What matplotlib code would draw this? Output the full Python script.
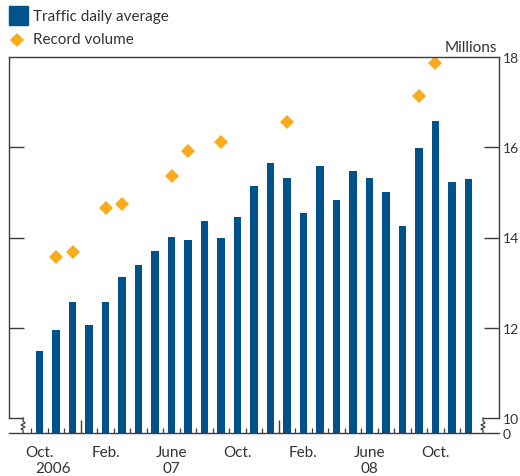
import matplotlib
matplotlib.use("Agg")
import matplotlib.pyplot as plt
from matplotlib.lines import Line2D
from matplotlib.patches import Rectangle
import pandas as pd

plt.rcParams['font.family'] = ['Lato', 'DejaVu Sans']

# data (millions)
months = [str(p) for p in pd.period_range("2006-10", "2008-12", freq="M")]
traffic = [11.49, 11.96, 12.58, 12.07, 12.56, 13.12, 13.40, 13.70, 14.01,
           13.94, 14.37, 13.99, 14.45, 15.14, 15.65, 15.32, 14.54, 15.58,
           14.83, 15.47, 15.32, 15.01, 14.25, 15.98, 16.58, 15.23, 15.30]
record_months = ["2006-11", "2006-12", "2007-02", "2007-03", "2007-06",
                 "2007-07", "2007-09", "2008-01", "2008-09", "2008-10"]
record_values = [13.57, 13.67, 14.65, 14.74, 15.36, 15.92, 16.12, 16.55,
                 17.13, 17.87]
month_labels = ["Oct.", "Feb.", "June", "Oct.", "Feb.", "June", "Oct."]
month_label_at = ["2006-10", "2007-02", "2007-06", "2007-10", "2008-02",
                  "2008-06", "2008-10"]
year_labels = ["2006", "07", "08"]
year_label_at = ["2006-10", "2007-06", "2008-06"]

BLUE = "#00538A"
ORANGE = "#FBAA1B"
LINE = "#3c3c3c"
TEXT = "#333333"
FS = 11
YFS = 10
PT = 0.72  # points per pixel at dpi 100

W, H = 520, 477
fig = plt.figure(figsize=(W / 100, H / 100), dpi=100)
ax = fig.add_axes([9 / W, 1 - 434 / H, 490 / W, 376 / H])

ymin = 18 - 376 / 45.125
x = list(range(len(months)))
ax.bar(x, [v - ymin for v in traffic], bottom=ymin, width=0.43, color=BLUE)
rx = [months.index(m) for m in record_months]
ax.plot(rx, record_values, linestyle="none", marker="D", markersize=7.6,
        color=ORANGE, markeredgewidth=0)

ax.set_xlim(-1.85, 27.85)
ax.set_ylim(ymin, 18)

for s in ax.spines.values():
    s.set_color(LINE)
    s.set_linewidth(1.0)
ax.spines['left'].set_bounds(10, 18)
ax.spines['right'].set_bounds(10, 18)

# axis breaks
px, py = 1 / 16.5, 1 / 45.125
zig = [(0, 0), (0, 3), (2, 5), (-2, 7), (2, 9), (-2, 11), (0, 12), (0, 15)]
for edge, x0 in [(-1.85, -1.0), (27.85, 26.88)]:
    ax.plot([edge, x0], [10, 10], color=LINE, lw=1.0, clip_on=False)
    ax.plot([x0 + dx * px for dx, dy in zig], [10 - dy * py for dx, dy in zig],
            color=LINE, lw=0.9, clip_on=False)

# x ticks at month boundaries, longer at year boundaries
ax.set_xticks([2.5, 14.5])
ax.set_xticks([i - 0.5 for i in range(len(months))], minor=True)
ax.tick_params(axis='x', which='major', direction='in', length=13 * PT,
               width=1.0, color=LINE, labelbottom=False)
ax.tick_params(axis='x', which='minor', direction='in', length=5 * PT,
               width=0.9, color=LINE)
for lab, m in zip(month_labels, month_label_at):
    ax.annotate(lab, xy=(months.index(m), 0), xycoords=ax.get_xaxis_transform(),
                xytext=(0, -16.6), textcoords='offset points', ha='center',
                va='baseline', fontsize=FS, color=TEXT)
for i, (lab, m) in enumerate(zip(year_labels, year_label_at)):
    xi = months.index(m) + (0.8 if i == 0 else 0)
    ax.annotate(lab, xy=(xi, 0), xycoords=ax.get_xaxis_transform(),
                xytext=(0, -28.3), textcoords='offset points', ha='center',
                va='baseline', fontsize=FS, color=TEXT)

# y ticks
ax.yaxis.tick_right()
ax.set_yticks([12, 14, 16])
ax.set_yticks([ymin, 10, 18], ["0", "10", "18"], minor=True)
ax.tick_params(axis='y', which='major', direction='in', length=15 * PT,
               width=1.0, color=LINE, left=True, right=True, labelright=True,
               labelleft=False, pad=2.5, labelsize=YFS, labelcolor=TEXT)
ax.tick_params(axis='y', which='minor', length=0, right=True, left=False,
               labelright=True, labelleft=False, pad=2.5, labelsize=YFS,
               labelcolor=TEXT)
ax.annotate("Millions", xy=(1, 1), xycoords='axes fraction', xytext=(-1, 4.3),
            textcoords='offset points', ha='right', va='baseline',
            fontsize=FS, color=TEXT)

# legend
fig.add_artist(Rectangle((9 / W, 1 - 26 / H), 19 / W, 19 / H,
                         transform=fig.transFigure, color=BLUE))
fig.text(33 / W, 1 - 16.5 / H, "Traffic daily average", ha='left',
         va='center', fontsize=FS, color=TEXT)
fig.add_artist(Line2D([17 / W], [1 - 41 / H], marker='D', markersize=7.6,
                      color=ORANGE, markeredgewidth=0,
                      transform=fig.transFigure))
fig.text(33 / W, 1 - 40.5 / H, "Record volume", ha='left', va='center',
         fontsize=FS, color=TEXT)

fig.savefig("out.png", dpi=100)
